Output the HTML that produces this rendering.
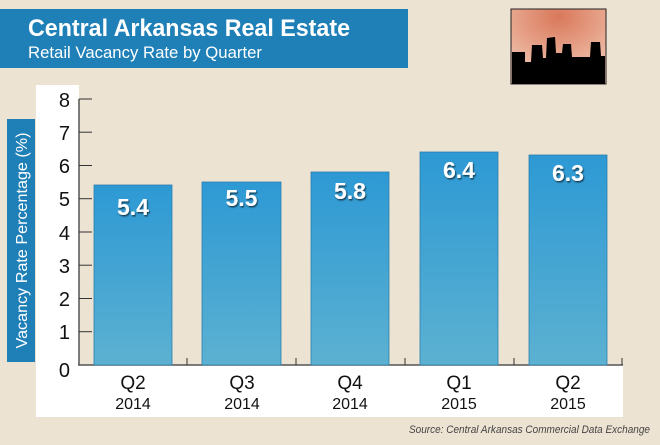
<!DOCTYPE html>
<html><head><style>
body{margin:0;width:660px;height:440px;overflow:hidden;background:#ede3d2;}
</style></head><body>
<svg width="660" height="440" xmlns="http://www.w3.org/2000/svg" font-family="Liberation Sans, sans-serif">
<defs>
<linearGradient id="bg" x1="0" y1="0" x2="0" y2="1"><stop offset="0" stop-color="#2d99d4"/><stop offset="1" stop-color="#5cb1d1"/></linearGradient>
<radialGradient id="sky" cx="0.5" cy="0.1" r="0.8"><stop offset="0" stop-color="#d9785a"/><stop offset="1" stop-color="#f0c2ad"/></radialGradient>
<filter id="sh"><feDropShadow dx="1" dy="1.5" stdDeviation="0.8" flood-color="#000" flood-opacity="0.6"/></filter>
</defs>
<rect width="660" height="440" fill="#ede3d2"/>
<!-- banner -->
<rect x="0" y="9" width="408" height="59" fill="#1f80b8"/>
<text x="28" y="36" fill="#fff" font-size="24" font-weight="bold" textLength="322" lengthAdjust="spacingAndGlyphs">Central Arkansas Real Estate</text>
<text x="28" y="58" fill="#fff" font-size="17" textLength="234" lengthAdjust="spacingAndGlyphs">Retail Vacancy Rate by Quarter</text>
<!-- skyline -->
<rect x="511" y="9" width="95" height="75" fill="url(#sky)" stroke="#222" stroke-width="1"/>
<path d="M512 84 L512 52 L525 52 L525 62 L531 62 L532 45 L542 45 L543 58 L546 58 L547 38 L555 37 L556 53 L562 53 L563 44 L571 44 L572 57 L590 57 L591 42 L600 42 L601 56 L605 56 L605 84 Z" fill="#000"/>
<!-- white panel -->
<rect x="36" y="85" width="43" height="332" fill="#fff"/>
<rect x="36" y="365" width="587" height="52" fill="#fff"/>
<!-- y label strip -->
<rect x="7" y="119" width="28" height="243" fill="#1f80b8"/>
<text transform="translate(27,240.5) rotate(-90)" text-anchor="middle" fill="#fff" font-size="16" textLength="216" lengthAdjust="spacingAndGlyphs">Vacancy Rate Percentage (%)</text>
<!-- axis -->
<line x1="79" y1="99" x2="79" y2="365" stroke="#555" stroke-width="1.5"/>
<line x1="78" y1="365" x2="623" y2="365" stroke="#555" stroke-width="1.5"/>
<g stroke="#333" stroke-width="1">
<line x1="79" y1="99" x2="92" y2="99"/><line x1="79" y1="132.2" x2="92" y2="132.2"/><line x1="79" y1="165.5" x2="92" y2="165.5"/><line x1="79" y1="198.7" x2="92" y2="198.7"/><line x1="79" y1="232" x2="92" y2="232"/><line x1="79" y1="265.2" x2="92" y2="265.2"/><line x1="79" y1="298.5" x2="92" y2="298.5"/><line x1="79" y1="331.7" x2="92" y2="331.7"/>
<line x1="187" y1="358" x2="187" y2="365"/><line x1="296" y1="358" x2="296" y2="365"/><line x1="405" y1="358" x2="405" y2="365"/><line x1="514" y1="358" x2="514" y2="365"/><line x1="622" y1="358" x2="622" y2="365"/>
</g>
<g font-size="20" fill="#111" text-anchor="end">
<text x="70" y="107">8</text><text x="70" y="140">7</text><text x="70" y="173">6</text><text x="70" y="206">5</text><text x="70" y="240">4</text><text x="70" y="273">3</text><text x="70" y="306">2</text><text x="70" y="339">1</text><text x="70" y="377">0</text>
</g>
<!-- bars -->
<g fill="url(#bg)" stroke="#2a7fae" stroke-width="0.8">
<rect x="94" y="185" width="78" height="180"/>
<rect x="202" y="182" width="79" height="183"/>
<rect x="311" y="172" width="78" height="193"/>
<rect x="420" y="152" width="78" height="213"/>
<rect x="529" y="155" width="78" height="210"/>
</g>
<g font-size="23" font-weight="bold" fill="#fff" text-anchor="middle" filter="url(#sh)">
<text x="133" y="215">5.4</text><text x="241.5" y="206">5.5</text><text x="350" y="199">5.8</text><text x="459" y="178">6.4</text><text x="568" y="181">6.3</text>
</g>
<g font-size="19" fill="#111" text-anchor="middle">
<text x="133" y="389">Q2</text><text x="242" y="389">Q3</text><text x="350" y="389">Q4</text><text x="459" y="389">Q1</text><text x="568" y="389">Q2</text>
</g>
<g font-size="16" fill="#111" text-anchor="middle">
<text x="133" y="409">2014</text><text x="242" y="409">2014</text><text x="350" y="409">2014</text><text x="459" y="409">2015</text><text x="568" y="409">2015</text>
</g>
<text x="650" y="433" text-anchor="end" font-size="11" font-style="italic" fill="#444" textLength="241" lengthAdjust="spacingAndGlyphs">Source: Central Arkansas Commercial Data Exchange</text>
</svg>
</body></html>
